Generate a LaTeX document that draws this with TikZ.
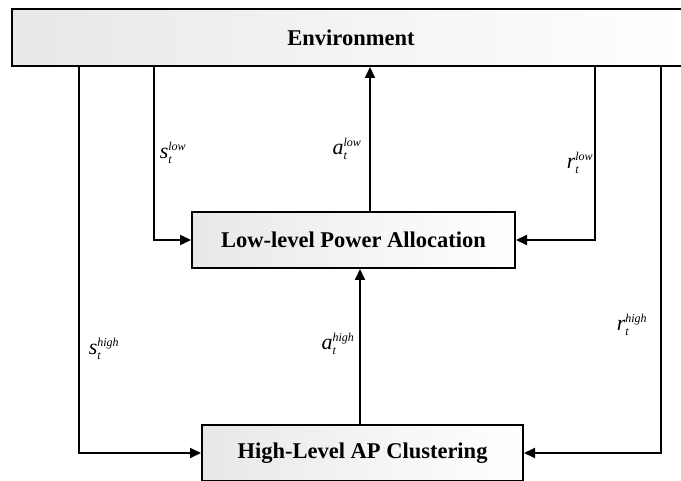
\documentclass[tikz,border=0pt]{standalone}
\usepackage{amsmath}
\usepackage{fontspec}
\setmainfont{Liberation Serif}
\DeclareMathSizes{22}{22}{12}{9}
\usetikzlibrary{arrows.meta}
\begin{document}
\begin{tikzpicture}[x=1pt,y=-1pt,
  blk/.style={draw=black, line width=2pt, inner sep=0pt, left color=black!9, right color=white,
              font=\fontsize{22.5}{26}\selectfont\bfseries},
  conn/.style={line width=2pt, -{Triangle[length=11pt,width=10pt]}},
  lbl/.style={inner sep=0pt, font=\fontsize{22}{26}\selectfont}]
\useasboundingbox (0,0) rectangle (681,481);
\node[blk, minimum width=678pt, minimum height=57pt] (env) at (351,37.5) {Environment};
\node[blk, minimum width=323pt, minimum height=56pt] (low) at (353.5,240) {Low-level Power Allocation};
\node[blk, minimum width=321pt, minimum height=56pt] (high) at (362.5,453) {High-Level AP Clustering};
\coordinate (xsh) at (79,0);
\coordinate (xsl) at (154,0);
\coordinate (xal) at (370,0);
\coordinate (xah) at (360,0);
\coordinate (xrl) at (595,0);
\coordinate (xrh) at (661,0);
\draw[conn] (xsl |- env.south) |- (low.west);
\draw[conn] (xrl |- env.south) |- (low.east);
\draw[conn] (xsh |- env.south) |- (high.west);
\draw[conn] (xrh |- env.south) |- (high.east);
\draw[conn] (xal |- low.north) -- (xal |- env.south);
\draw[conn] (xah |- high.north) -- (xah |- low.south);
\node[lbl] (lsl) at (173,153) {$\textit{s}_{\textit{t}}^{\textit{low}}$};
\node[lbl] (lal) at (347,149) {$\textit{a}_{\textit{t}}^{\textit{low}}$};
\node[lbl] (lrl) at (580,163) {$\textit{r}_{\textit{t}}^{\textit{low}}$};
\node[lbl] (lsh) at (104,349) {$\textit{s}_{\textit{t}}^{\textit{high}}$};
\node[lbl] (lah) at (338,344) {$\textit{a}_{\textit{t}}^{\textit{high}}$};
\node[lbl] (lrh) at (632,325) {$\textit{r}_{\textit{t}}^{\textit{high}}$};
\end{tikzpicture}
\end{document}
